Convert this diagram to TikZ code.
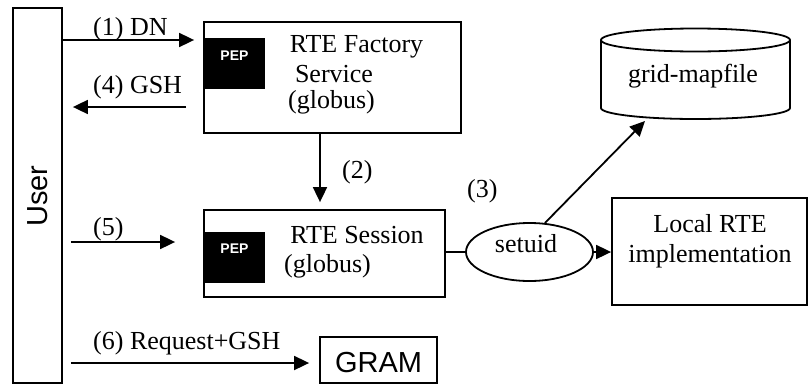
\documentclass[tikz,border=0pt]{standalone}
\usepackage{fontspec}
\setmainfont{Liberation Serif}
\newfontfamily\arialf{Liberation Sans}
\usetikzlibrary{arrows.meta,shapes.geometric}
\begin{document}
\begin{tikzpicture}[x=1pt,y=-1pt,
  box/.style={draw, line width=1.8pt, inner sep=0pt},
  pepbox/.style={fill=black, draw=black, inner sep=0pt, minimum width=60pt, minimum height=50pt},
  peptxt/.style={text=white, font=\arialf\bfseries\fontsize{14}{16}\selectfont, inner sep=0pt, anchor=base},
  txt/.style={font=\fontsize{26}{30}\selectfont, inner sep=0pt, anchor=base},
  sanstxt/.style={font=\arialf\fontsize{29}{32}\selectfont, inner sep=0pt},
  lbl/.style={txt, anchor=base west},
  arr/.style={line width=1.8pt, -{Triangle[length=15pt,width=14pt]}},
  ln/.style={line width=1.8pt}]
\useasboundingbox (0,0) rectangle (809,386);

% User
\node[box, minimum width=49pt, minimum height=375pt] (user) at (37.5,195.5) {};
\node[sanstxt, rotate=90] (usertxt) at (37.5,196) {User};

% RTE Factory Service
\node[box, minimum width=257pt, minimum height=111pt] (fac) at (332.5,77.5) {};
\node[pepbox] (pep1) at (234,63) {};
\node[peptxt] (pep1t) at (234.5,60.5) {PEP};
\node[txt] (fac1) at (356.5,52) {RTE Factory};
\node[txt] (fac2) at (334,82) {Service};
\node[txt] (fac3) at (331.5,108) {(globus)};

% RTE Session
\node[box, minimum width=241pt, minimum height=87pt] (sess) at (324.5,253.5) {};
\node[pepbox] (pep2) at (234,257) {};
\node[peptxt] (pep2t) at (234.5,253) {PEP};
\node[txt] (sess1) at (357,243) {RTE Session};
\node[txt] (sess2) at (327.5,272) {(globus)};

% GRAM
\node[box, minimum width=117pt, minimum height=46pt] (gram) at (378.5,360) {};
\node[sanstxt, anchor=base] (gramt) at (378.5,372) {GRAM};

% setuid
\node[draw, ellipse, line width=1.8pt, minimum width=127pt, minimum height=58pt, inner sep=0pt] (su) at (529.5,252) {};
\node[txt] (sut) at (526,252) {setuid};

% Local RTE implementation
\node[box, minimum width=195pt, minimum height=107pt] (loc) at (709.5,251.5) {};
\node[txt] (loc1) at (710,232) {Local RTE};
\node[txt] (loc2) at (710,262) {implementation};

% grid-mapfile cylinder
\draw[ln, fill=white] (601,40) -- (601,108) arc[start angle=180,end angle=360,x radius=94.5pt,y radius=11pt] -- (790,40);
\draw[ln] (695.5,40) ellipse [x radius=94.5pt, y radius=11.5pt];
\node[inner sep=0pt, minimum width=189pt, minimum height=90pt] (gm) at (695.5,74) {};
\node[txt] (gmt) at (693,82) {grid-mapfile};

% connectors
\coordinate (y1) at (0,40);
\coordinate (y4) at (0,107);
\coordinate (x2) at (320,0);
\coordinate (y5) at (0,242);
\coordinate (y6) at (0,363);
\coordinate (gmtip) at (645,121);
\draw[arr, shorten >=9pt] (user.east |- y1) -- (fac.west |- y1);
\draw[arr, shorten <=17pt, shorten >=10pt] (fac.west |- y4) -- (user.east |- y4);
\draw[arr, shorten >=7pt] (x2 |- fac.south) -- (x2 |- sess.north);
\draw[arr, shorten <=8pt, shorten >=28pt] (user.east |- y5) -- (sess.west |- y5);
\draw[arr, shorten <=8pt, shorten >=10pt] (user.east |- y6) -- (gram.west |- y6);
\draw[ln] (sess.east |- su.west) -- (su.west);
\draw[arr] (su.east) -- (su.east -| loc.west);
\draw[arr] (su.62) -- (gmtip);

% labels
\node[lbl] (l1) at (93,35) {(1) DN};
\node[lbl] (l4) at (93,93) {(4) GSH};
\node[lbl] (l2) at (342,178) {(2)};
\node[lbl] (l5) at (93,235) {(5)};
\node[lbl] (l6) at (93,349) {(6) Request+GSH};
\node[lbl] (l3) at (467,197) {(3)};
\end{tikzpicture}
\end{document}
